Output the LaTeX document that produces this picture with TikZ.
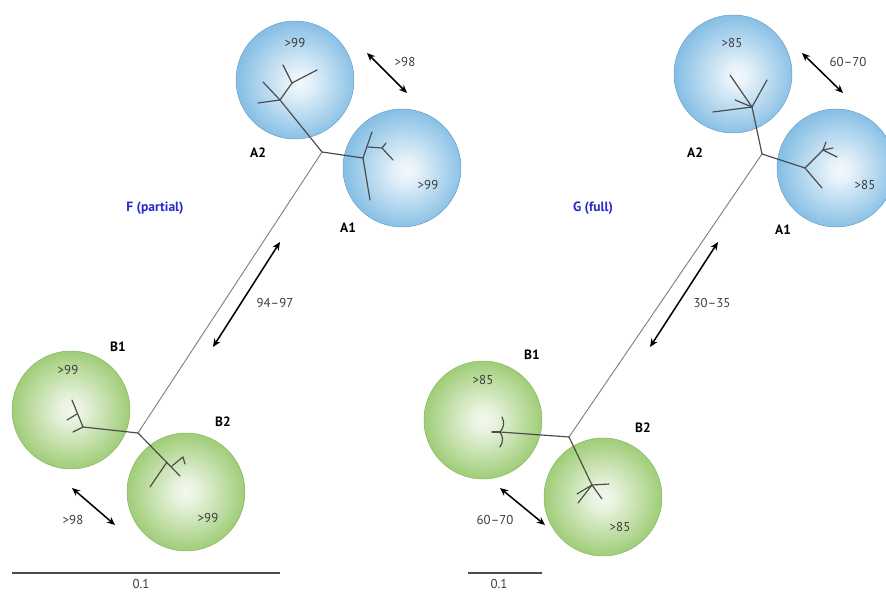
\documentclass[tikz,border=0pt]{standalone}
\usepackage{fontspec}
\setmainfont{PT Sans}
\usepackage{tikz}
\usetikzlibrary{arrows.meta}
\definecolor{sphereBlue}{RGB}{136,192,229}
\definecolor{sphereBlueLine}{RGB}{100,155,200}
\definecolor{sphereGreen}{RGB}{160,205,120}
\definecolor{sphereGreenLine}{RGB}{130,182,95}
\definecolor{treeGray}{RGB}{75,75,75}
\definecolor{labelGray}{RGB}{60,60,60}
\definecolor{titleBlue}{RGB}{40,40,205}
\pgfdeclareradialshading{blueSphere}{\pgfpoint{2bp}{-1bp}}{color(0bp)=(white!90!sphereBlue); color(5bp)=(white!78!sphereBlue); color(25bp)=(sphereBlue); color(50bp)=(sphereBlue)}
\pgfdeclareradialshading{greenSphere}{\pgfpoint{0bp}{0bp}}{color(0bp)=(white!88!sphereGreen); color(5bp)=(white!76!sphereGreen); color(25bp)=(sphereGreen); color(50bp)=(sphereGreen)}

\begin{document}
\begin{tikzpicture}
[x=0.03cm, y=-0.03cm,%
    sphereBlueDecorate/.style={shape=circle,inner sep=0pt,minimum size=3.54cm,draw=sphereBlueLine,thin,shading=blueSphere,shade},%
    sphereGreenDecorate/.style={shape=circle,inner sep=0pt,minimum size=3.54cm,draw=sphereGreenLine,thin,shading=greenSphere,shade},%
    treeDecorate/.style={treeGray,line width=1pt,line cap=round},%
    stemDecorate/.style={gray,line width=0.8pt},%
    supportDecorate/.style={black,{Stealth[length=7pt,width=6pt]}-{Stealth[length=7pt,width=6pt]},line width=1.3pt},%
    scaleDecorate/.style={treeGray,line width=0.9pt},%
    valueDecorate/.style={labelGray,font=\fontsize{11}{13}\selectfont},%
    cladeDecorate/.style={black,font=\fontsize{11.5}{13}\selectfont\bfseries},%
    titleDecorate/.style={titleBlue,font=\fontsize{11.5}{13}\selectfont\bfseries}]
    \useasboundingbox (0,0) rectangle (886,594);
    %% spheres
    \foreach \nodename/\x/\y in {A2L/295/80, A1L/402/168, A2R/733/74, A1R/836/168}
    {
        \node (\nodename) at (\x,\y) [sphereBlueDecorate] {};
    }
    \foreach \nodename/\x/\y in {B1L/71/410, B2L/186/492, B1R/483/420, B2R/603/497}
    {
        \node (\nodename) at (\x,\y) [sphereGreenDecorate] {};
    }
    %% tree points, F (partial)
    \foreach \nodename/\x/\y in {jAL/322/152, jBL/138/433, a2nL/280/100, a2mL/292/83, a2aL/258/103, a2bL/263/82, a2cL/283/65, a2dL/317/70, a1nL/363/158, a1mL/368/147, a1kL/382/148, a1aL/370/200, a1bL/372/132, a1cL/393/160, a1dL/386/143, b1nL/83/427, b1mL/77/414, b1aL/72/400, b1bL/67/420, b1cL/73/432, b2nL/167/462, b2mL/172/466, b2aL/150/487, b2bL/180/476, b2kL/183/457, b2cL/185/464}
    {
        \coordinate (\nodename) at (\x,\y);
    }
    %% tree points, G (full)
    \foreach \nodename/\x/\y in {jAR/762/154, jBR/569/437, a2nR/752/107, a2aR/713/112, a2bR/730/75, a2cR/767/80, a2dR/735/100, a1nR/805/168, a1mR/823/150, a1aR/822/188, a1bR/826/142, a1cR/837/157, a1dR/833/148, b1nR/500/432, b1aR/492/432, b1bR/502/417, b1cR/500/447, b2nR/592/485, b2aR/578/503, b2bR/602/499, b2cR/609/484, b2dR/577/494}
    {
        \coordinate (\nodename) at (\x,\y);
    }
    %% long stems
    \draw[stemDecorate] (jAL) -- (jBL);
    \draw[stemDecorate] (jAR) -- (jBR);
    %% tree edges
    \path\foreach \startnode/\endnode in {jAL/a2nL, a2nL/a2aL, a2nL/a2bL, a2nL/a2mL, a2mL/a2cL, a2mL/a2dL, jAL/a1nL, a1nL/a1aL, a1nL/a1bL, a1mL/a1kL, a1kL/a1cL, a1kL/a1dL, jBL/b1nL, b1nL/b1aL, b1nL/b1cL, b1mL/b1bL, jBL/b2bL, b2nL/b2aL, b2mL/b2kL, b2kL/b2cL, jAR/a2nR, a2nR/a2aR, a2nR/a2bR, a2nR/a2cR, a2nR/a2dR, jAR/a1nR, a1nR/a1aR, a1nR/a1mR, a1mR/a1bR, a1mR/a1cR, a1mR/a1dR, jBR/b1nR, b1nR/b1aR, jBR/b2nR, b2nR/b2aR, b2nR/b2bR, b2nR/b2cR, b2nR/b2dR}
    {
        (\startnode) edge[treeDecorate] (\endnode)
    };
    \draw[treeDecorate] (b1nR) to[bend right=35] (b1bR);
    \draw[treeDecorate] (b1nR) to[bend left=35] (b1cR);
    %% support arrows
    \foreach \nodename/\xa/\ya/\xb/\yb in {topL/367/53/407/93, midL/280/242/213/347, botL/72/488/115/525, topR/802/53/843/93, midR/718/242/650/347, botR/500/488/545/525}
    {
        \coordinate (\nodename s) at (\xa,\ya);
        \coordinate (\nodename e) at (\xb,\yb);
        \draw[supportDecorate] (\nodename s) -- (\nodename e);
    }
    %% values
    \foreach \nodename/\x/\y/\val in {vTopL/405/62/{>98}, vMidL/275/303/{94--97}, vBotL/73/520/{>98}, vA2L/295/43/{>99}, vA1L/428/185/{>99}, vB1L/68/370/{>99}, vB2L/208/518/{>99}, vTopR/848/62/{60--70}, vMidR/712/303/{30--35}, vBotR/495/520/{60--70}, vA2R/732/43/{>85}, vA1R/865/185/{>85}, vB1R/483/380/{>85}, vB2R/620/527/{>85}}
    {
        \node (\nodename) at (\x,\y) [valueDecorate] {\val};
    }
    %% clade names
    \foreach \nodename/\x/\y/\val in {nA2L/258/153/A2, nA1L/348/228/A1, nB1L/118/347/B1, nB2L/223/422/B2, nA2R/695/153/A2, nA1R/783/230/A1, nB1R/532/355/B1, nB2R/643/428/B2}
    {
        \node (\nodename) at (\x,\y) [cladeDecorate] {\val};
    }
    \node (titleL) at (155,208) [titleDecorate] {F (partial)};
    \node (titleR) at (593,208) [titleDecorate] {G (full)};
    %% scale bars
    \coordinate (scaleLs) at (12,573);
    \coordinate (scaleLe) at (280,573);
    \coordinate (scaleRs) at (468,573);
    \coordinate (scaleRe) at (542,573);
    \draw[scaleDecorate] (scaleLs) -- (scaleLe);
    \draw[scaleDecorate] (scaleRs) -- (scaleRe);
    \node (scaleLabelL) at (141,584) [valueDecorate,inner sep=1pt] {0.1};
    \node (scaleLabelR) at (499,584) [valueDecorate,inner sep=1pt] {0.1};
\end{tikzpicture}
\end{document}
